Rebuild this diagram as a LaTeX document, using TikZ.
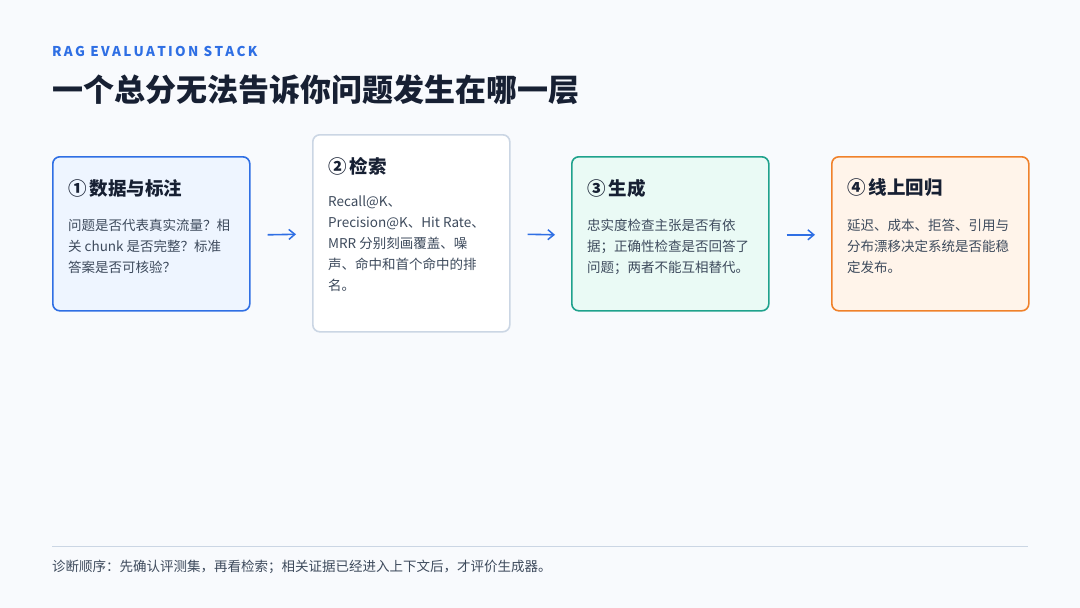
\documentclass[tikz,border=0pt]{standalone}
\usepackage{fontspec}
\setmainfont{Noto Sans CJK SC}
\usetikzlibrary{arrows.meta}
\definecolor{bg}{HTML}{F8FAFD}
\definecolor{ink}{HTML}{172033}
\definecolor{body}{HTML}{3D4A5C}
\definecolor{blu}{HTML}{2F6FE4}
\definecolor{blufill}{HTML}{EEF5FF}
\definecolor{gry}{HTML}{CBD6E4}
\definecolor{tea}{HTML}{1FA28C}
\definecolor{teafill}{HTML}{EAFAF5}
\definecolor{org}{HTML}{F0812A}
\definecolor{orgfill}{HTML}{FFF4EA}
\begin{document}
\begin{tikzpicture}[x=1pt,y=-1pt,
  card/.style={draw, line width=1.6pt, rounded corners=7pt},
  ttl/.style={anchor=west, inner sep=0pt, text=ink, font=\fontsize{18.5}{22}\selectfont\bfseries},
  bod/.style={anchor=north west, inner sep=0pt, text=body, align=left, font=\fontsize{13.5}{21}\selectfont},
  arr/.style={-{Straight Barb[length=6pt,width=10pt,line width=1.5pt]}, draw=blu, line width=1.6pt}]
\fill[bg] (0,0) rectangle (1080,608);
\useasboundingbox (0,0) rectangle (1080,608);
\node[anchor=west, inner sep=0pt, text=blu, font=\fontsize{13.5}{14}\selectfont\bfseries] (kick) at (52,51) {R\,A\,G\,\ E\,V\,A\,L\,U\,A\,T\,I\,O\,N\,\ S\,T\,A\,C\,K};
\node[anchor=west, inner sep=0pt, text=ink, font=\fontsize{31}{36}\selectfont\bfseries] (head) at (52,90) {一个总分无法告诉你问题发生在哪一层};
\node[card, draw=blu, fill=blufill, minimum width=197, minimum height=154, anchor=north west] (c1) at (52,156) {};
\node[card, draw=gry, fill=white, minimum width=197, minimum height=197, anchor=north west] (c2) at (312,134) {};
\node[card, draw=tea, fill=teafill, minimum width=197, minimum height=154, anchor=north west] (c3) at (571,156) {};
\node[card, draw=org, fill=orgfill, minimum width=197, minimum height=154, anchor=north west] (c4) at (831,156) {};
\node[ttl] (t1) at (68,188) {①\,数据与标注};
\node[bod] (b1) at (68,219) {问题是否代表真实流量？相\\关 chunk 是否完整？标准\\答案是否可核验？};
\node[ttl] (t2) at (328,166) {②\,检索};
\node[bod] (b2) at (328,196) {Recall@K、\\Precision@K、Hit Rate、\\MRR 分别刻画覆盖、噪\\声、命中和首个命中的排\\名。};
\node[ttl] (t3) at (587,188) {③\,生成};
\node[bod] (b3) at (587,219) {忠实度检查主张是否有依\\据；正确性检查是否回答了\\问题；两者不能互相替代。};
\node[ttl] (t4) at (847,188) {④\,线上回归};
\node[bod] (b4) at (847,219) {延迟、成本、拒答、引用与\\分布漂移决定系统是否能稳\\定发布。};
\draw[arr] ([xshift=17pt,yshift=-1pt]c1.east) -- ([xshift=-16pt,yshift=-1pt]c2.west);
\draw[arr] ([xshift=17pt,yshift=-1pt]c2.east) -- ([xshift=-16pt,yshift=-1pt]c3.west);
\draw[arr] ([xshift=17pt,yshift=-1pt]c3.east) -- ([xshift=-16pt,yshift=-1pt]c4.west);
\coordinate (l1) at (52,546); \coordinate (l2) at (1028,546);
\draw[gry, line width=0.8pt] (l1) -- (l2);
\node[anchor=west, inner sep=0pt, text=body, font=\fontsize{13.5}{14}\selectfont] (foot) at (52,567) {诊断顺序：先确认评测集，再看检索；相关证据已经进入上下文后，才评价生成器。};
\end{tikzpicture}
\end{document}
